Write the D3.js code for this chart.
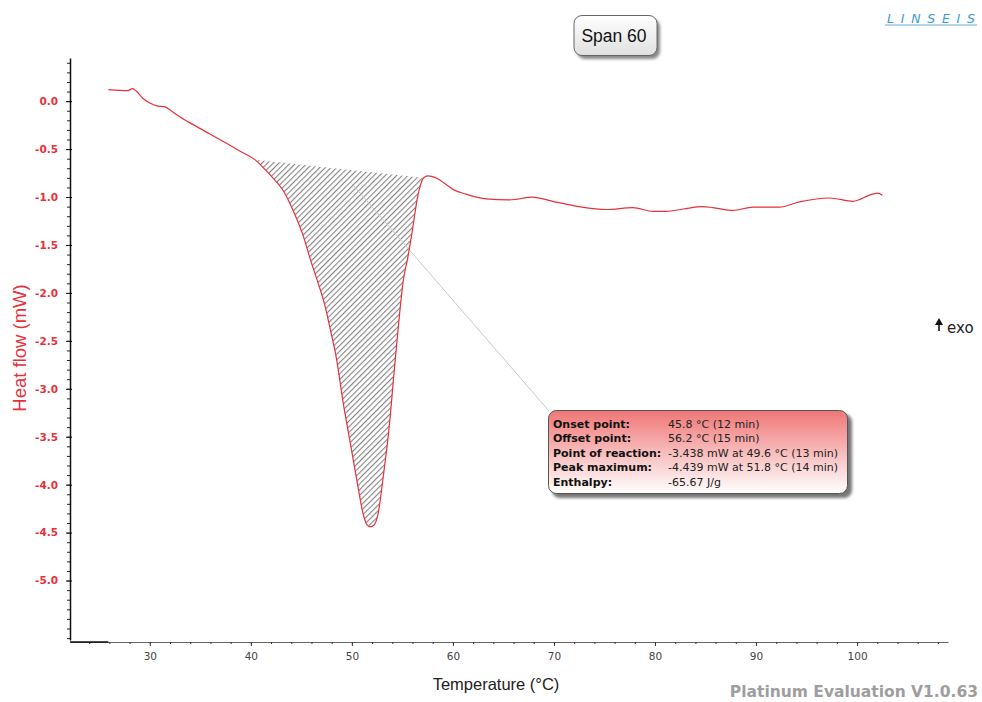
<!DOCTYPE html>
<html>
<head>
<meta charset="utf-8">
<script src="https://cdn.jsdelivr.net/npm/d3@7"></script>
<style>
  body { margin: 0; background: #fff; }
  text { font-family: "DejaVu Sans", Verdana, sans-serif; }
</style>
</head>
<body>
<div id="chart"></div>
<script>
// DSC curve
var temperature = [25.9, 27.8, 28.3, 28.7, 29.3, 30.0, 30.7, 31.5, 32.1, 33.0, 34.3, 35.9, 37.6, 38.9,
  40.4, 41.2, 42.0, 43.3, 44.3, 45.2, 45.9, 46.6, 47.3, 47.8, 48.5, 49.1, 49.9, 50.6, 51.1, 51.5, 51.8,
  52.2, 52.6, 53.1, 53.7, 54.2, 54.6, 55.1, 55.5, 56.0, 56.5, 57.1, 57.5, 57.9, 58.5, 59.2, 60.0,
  61.3, 63.3, 65.6, 67.9, 69.9, 72.5, 75.2, 77.8, 79.8, 81.1, 82.8, 84.7, 85.7, 87.7, 89.7, 92.3,
  94.3, 97.3, 99.6, 101.5, 102.0, 102.5];
var heatFlow = [0.12, 0.11, 0.13, 0.10, 0.03, -0.02, -0.05, -0.06, -0.10, -0.165, -0.245, -0.34, -0.44, -0.52,
  -0.61, -0.69, -0.78, -0.95, -1.17, -1.41, -1.655, -1.88, -2.12, -2.35, -2.70, -3.12, -3.60, -4.02, -4.30, -4.42, -4.44,
  -4.42, -4.30, -3.92, -3.39, -2.80, -2.35, -1.86, -1.65, -1.34, -1.00, -0.80, -0.78, -0.785, -0.81, -0.86, -0.92,
  -0.97, -1.02, -1.03, -1.00, -1.045, -1.10, -1.13, -1.11, -1.15, -1.15, -1.125, -1.10, -1.11, -1.14, -1.105, -1.105,
  -1.05, -1.01, -1.045, -0.97, -0.96, -0.98];

// straight baseline used for the integrated peak
var baselineT = [40.4, 57.1];
var baselineHF = [-0.61, -0.80];
var leaderT = 50.0, leaderHF = -0.86;

var xTicks = [30, 40, 50, 60, 70, 80, 90, 100];
var yTicks = [0.0, -0.5, -1.0, -1.5, -2.0, -2.5, -3.0, -3.5, -4.0, -4.5, -5.0];

var resultLabels = ["Onset point:", "Offset point:", "Point of reaction:", "Peak maximum:", "Enthalpy:"];
var resultValues = ["45.8 °C (12 min)", "56.2 °C (15 min)", "-3.438 mW at 49.6 °C (13 min)",
  "-4.439 mW at 51.8 °C (14 min)", "-65.67 J/g"];

var width = 982, height = 702;
var red = "#e8303a";

var data = temperature.map(function(t, i) { return {T: t, HF: heatFlow[i]}; });

var x = d3.scaleLinear().domain([22.1, 109]).range([70, 948]);
var y = d3.scaleLinear().domain([0.45, -5.62]).range([58, 640]);

var svg = d3.select("#chart").append("svg")
    .attr("width", width)
    .attr("height", height);

var defs = svg.append("defs");

// hatch for the peak area
var hatch = defs.append("pattern")
    .attr("id", "hatch")
    .attr("patternUnits", "userSpaceOnUse")
    .attr("width", 4).attr("height", 10)
    .attr("patternTransform", "rotate(45)");
hatch.append("line")
    .attr("x1", 0.6).attr("y1", 0).attr("x2", 0.6).attr("y2", 10)
    .attr("stroke", "#666").attr("stroke-width", 0.9);

var boxGrad = defs.append("linearGradient").attr("id", "boxGrad")
    .attr("x1", 0).attr("y1", 0).attr("x2", 0).attr("y2", 1);
boxGrad.append("stop").attr("offset", "0%").attr("stop-color", "#f07676");
boxGrad.append("stop").attr("offset", "55%").attr("stop-color", "#f8c2c2");
boxGrad.append("stop").attr("offset", "100%").attr("stop-color", "#ffffff");

var btnGrad = defs.append("linearGradient").attr("id", "btnGrad")
    .attr("x1", 0).attr("y1", 0).attr("x2", 0).attr("y2", 1);
btnGrad.append("stop").attr("offset", "0%").attr("stop-color", "#ffffff");
btnGrad.append("stop").attr("offset", "100%").attr("stop-color", "#e0e0e0");

var blur = defs.append("filter").attr("id", "shadow")
    .attr("x", "-10%").attr("y", "-10%").attr("width", "130%").attr("height", "140%");
blur.append("feGaussianBlur").attr("stdDeviation", 1.5);

// hatched area between baseline and curve
function baseAt(t) {
  return baselineHF[0] + (t - baselineT[0]) / (baselineT[1] - baselineT[0]) * (baselineHF[1] - baselineHF[0]);
}
var peakData = data.filter(function(d) { return d.T >= baselineT[0] && d.T <= baselineT[1]; });

var area = d3.area()
    .curve(d3.curveMonotoneX)
    .x(function(d) { return x(d.T); })
    .y0(function(d) { return y(baseAt(d.T)); })
    .y1(function(d) { return y(d.HF); });

svg.append("path")
    .datum(peakData)
    .attr("d", area)
    .attr("fill", "url(#hatch)");

// leader line to the results box
svg.append("line")
    .attr("x1", x(leaderT)).attr("y1", y(leaderHF))
    .attr("x2", 549).attr("y2", 411)
    .attr("stroke", "#c8c8c8").attr("stroke-width", 1);

// the curve
var line = d3.line()
    .curve(d3.curveMonotoneX)
    .x(function(d) { return x(d.T); })
    .y(function(d) { return y(d.HF); });

svg.append("path")
    .datum(data)
    .attr("d", line)
    .attr("fill", "none")
    .attr("stroke", red)
    .attr("stroke-width", 1.2);

// Y axis
var yAxis = svg.append("g")
    .attr("transform", "translate(70,0)")
    .call(d3.axisLeft(y).tickValues(yTicks).tickSize(4).tickSizeOuter(0)
      .tickFormat(function(d) { return d.toFixed(1); }));
yAxis.select(".domain").attr("stroke", "#111").attr("stroke-width", 1.5);
yAxis.selectAll(".tick line").attr("stroke", "#111");
yAxis.selectAll(".tick text")
    .attr("x", -12)
    .attr("fill", red)
    .style("font-size", "10.5px")
    .style("font-weight", "bold");

svg.append("g")
    .attr("transform", "translate(70,0)")
    .call(d3.axisRight(y).tickValues(yTicks).tickSize(2).tickSizeOuter(0).tickFormat(""))
    .select(".domain").remove();

var yMinor = svg.append("g")
    .attr("transform", "translate(70,0)")
    .call(d3.axisLeft(y).tickValues(d3.range(0.4, -5.65, -0.1)).tickSize(3).tickSizeOuter(0).tickFormat(""));
yMinor.select(".domain").remove();
yMinor.selectAll(".tick line").attr("stroke", "#222");

// X axis
var xAxis = svg.append("g")
    .attr("transform", "translate(0,642)")
    .call(d3.axisBottom(x).tickValues(xTicks).tickSize(4).tickSizeOuter(0));
xAxis.select(".domain").attr("stroke", "#666");
xAxis.selectAll(".tick line").attr("stroke", "#333");
xAxis.selectAll(".tick text")
    .attr("y", 11)
    .attr("fill", "#444")
    .style("font-size", "10.5px");

var xMinor = svg.append("g")
    .attr("transform", "translate(0,642)")
    .call(d3.axisBottom(x).tickValues(d3.range(24, 109, 2)).tickSize(2).tickSizeOuter(0).tickFormat(""));
xMinor.select(".domain").remove();
xMinor.selectAll(".tick line").attr("stroke", "#333");

svg.append("line")
    .attr("x1", 70).attr("x2", x(temperature[0]))
    .attr("y1", 642).attr("y2", 642)
    .attr("stroke", "#111").attr("stroke-width", 1.5);

// axis titles
svg.append("text")
    .attr("transform", "translate(26,348) rotate(-90)")
    .attr("text-anchor", "middle")
    .attr("fill", red)
    .style("font-family", "'Liberation Sans', Arial, sans-serif")
    .style("font-size", "18.5px")
    .text("Heat flow (mW)");

svg.append("text")
    .attr("x", 496).attr("y", 690)
    .attr("text-anchor", "middle")
    .attr("fill", "#222")
    .style("font-family", "'Liberation Sans', Arial, sans-serif")
    .style("font-size", "16.5px")
    .text("Temperature (°C)");

// exo marker
svg.append("path")
    .attr("d", "M939,318 L935,325 L938.2,325 L938.2,331 L939.8,331 L939.8,325 L943,325 Z")
    .attr("fill", "#111");
svg.append("text")
    .attr("x", 947).attr("y", 333)
    .attr("fill", "#222")
    .style("font-size", "15px")
    .text("exo");

// Span button
svg.append("rect")
    .attr("x", 577).attr("y", 19).attr("width", 83).attr("height", 40).attr("rx", 8)
    .attr("fill", "#888").attr("filter", "url(#shadow)");
svg.append("rect")
    .attr("x", 574).attr("y", 15.5).attr("width", 83).attr("height", 40).attr("rx", 8)
    .attr("fill", "url(#btnGrad)").attr("stroke", "#666");
svg.append("text")
    .attr("x", 614).attr("y", 42)
    .attr("text-anchor", "middle")
    .attr("fill", "#111")
    .style("font-family", "'Liberation Sans', Arial, sans-serif")
    .style("font-size", "17.5px")
    .text("Span 60");

// logo
svg.append("text")
    .attr("x", 887).attr("y", 22.5)
    .attr("fill", "#3d9ad6")
    .attr("textLength", 88)
    .attr("lengthAdjust", "spacing")
    .style("font-size", "12.5px")
    .style("font-style", "italic")
    .text("LINSEIS");
svg.append("line")
    .attr("x1", 885).attr("x2", 977).attr("y1", 25).attr("y2", 25)
    .attr("stroke", "#3d9ad6").attr("stroke-width", 0.8);

// results box
svg.append("rect")
    .attr("x", 552).attr("y", 414).attr("width", 300).attr("height", 84).attr("rx", 8)
    .attr("fill", "#777").attr("filter", "url(#shadow)");
svg.append("rect")
    .attr("x", 548.5).attr("y", 410.5).attr("width", 299).attr("height", 83).attr("rx", 8)
    .attr("fill", "url(#boxGrad)").attr("stroke", "#555");

var rows = svg.append("g").selectAll("g")
    .data(resultLabels)
    .enter().append("g")
    .attr("transform", function(d, i) { return "translate(0," + (428 + i * 14.4) + ")"; });
rows.append("text")
    .attr("x", 553)
    .attr("fill", "#111")
    .style("font-size", "11px")
    .style("font-weight", "bold")
    .text(function(d) { return d; });
rows.append("text")
    .attr("x", 668)
    .attr("fill", "#222")
    .style("font-size", "11px")
    .text(function(d, i) { return resultValues[i]; });

// footer
svg.append("text")
    .attr("x", 978).attr("y", 697)
    .attr("text-anchor", "end")
    .attr("fill", "#9e9e9e")
    .style("font-size", "15.5px")
    .style("font-weight", "bold")
    .text("Platinum Evaluation V1.0.63");
</script>
</body>
</html>
